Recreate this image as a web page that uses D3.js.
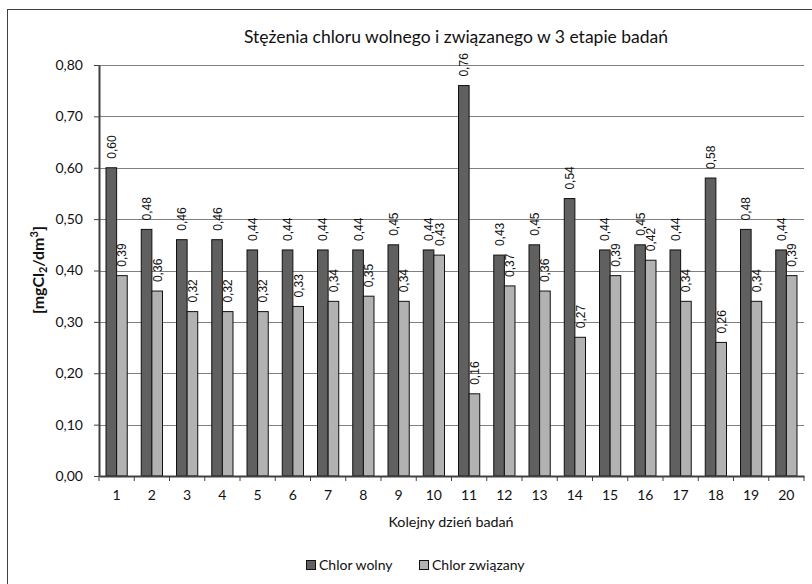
<!DOCTYPE html>
<html><head><meta charset="utf-8">
<script src="https://cdn.jsdelivr.net/npm/d3@7"></script>
<style>body{margin:0;background:#fff}svg{display:block}</style>
</head><body>
<script>
const days = ["1","2","3","4","5","6","7","8","9","10","11","12","13","14","15","16","17","18","19","20"];
const chlorWolny = [0.60,0.48,0.46,0.46,0.44,0.44,0.44,0.44,0.45,0.44,0.76,0.43,0.45,0.54,0.44,0.45,0.44,0.58,0.48,0.44];
const chlorZwiazany = [0.39,0.36,0.32,0.32,0.32,0.33,0.34,0.35,0.34,0.43,0.16,0.37,0.36,0.27,0.39,0.42,0.34,0.26,0.34,0.39];
const seriesNames = ["Chlor wolny","Chlor związany"];
const seriesColors = ["#606060","#b2b2b2"];
const yTicks = [0,0.1,0.2,0.3,0.4,0.5,0.6,0.7,0.8];
const title = "Stężenia chloru wolnego i związanego w 3 etapie badań";
const xTitle = "Kolejny dzień badań";

const W=812,H=584;
const svg=d3.select("body").append("svg").attr("width",W).attr("height",H);
const font="Lato, 'Open Sans', sans-serif";
svg.append("rect").attr("x",7.5).attr("y",9.5).attr("width",820).attr("height",600)
  .attr("fill","#fff").attr("stroke","#404040").attr("stroke-width",1);

const L=99,R=804,T=65,B=476;
const x=d3.scaleBand().domain(days).range([L,R]).paddingInner(0).paddingOuter(0);
const y=d3.scaleLinear().domain([0,0.8]).range([B,T]);
const inner=d3.scaleBand().domain([0,1]).range([0,x.bandwidth()]).paddingInner(0).paddingOuter(0.66);

// gridlines
svg.append("g").selectAll("line").data(yTicks.slice(1)).join("line")
  .attr("x1",L).attr("x2",R).attr("y1",d=>Math.round(y(d))+0.5).attr("y2",d=>Math.round(y(d))+0.5)
  .attr("stroke","#808080").attr("stroke-width",1);

// bars
const series=[chlorWolny,chlorZwiazany];
series.forEach((vals,si)=>{
  const g=svg.append("g");
  g.selectAll("rect").data(vals).join("rect")
    .attr("x",(d,i)=>x(days[i])+inner(si))
    .attr("y",d=>y(d))
    .attr("width",inner.bandwidth())
    .attr("height",d=>B-y(d))
    .attr("fill",seriesColors[si]).attr("stroke","#111").attr("stroke-width",1);
  g.selectAll("text").data(vals).join("text")
    .attr("transform",(d,i)=>{const cx=x(days[i])+inner(si)+inner.bandwidth()/2+4.5;const cy=y(d)-9;return `translate(${cx},${cy}) rotate(-90)`;})
    .attr("font-family","'Liberation Sans', Arial, sans-serif").attr("font-size",12).attr("fill","#111")
    .text(d=>d3.format(".2f")(d).replace(".",","));
});

// y axis
const yAxis=d3.axisLeft(y).tickValues(yTicks).tickSize(5).tickSizeOuter(0).tickPadding(11)
  .tickFormat(d=>d3.format(".2f")(d).replace(".",","));
const ya=svg.append("g").attr("transform",`translate(${L},0)`).call(yAxis);
ya.select(".domain").attr("stroke","#404040").attr("stroke-width",2);
ya.selectAll(".tick line").attr("stroke","#404040");
ya.selectAll("text").attr("font-family",font).attr("font-size",14).attr("fill","#111");

// x axis
const xAxis=d3.axisBottom(x).tickSize(0).tickPadding(14);
const xa=svg.append("g").attr("transform",`translate(0,${B})`).call(xAxis);
xa.select(".domain").attr("stroke","#404040").attr("stroke-width",2);
xa.selectAll("text").attr("font-family",font).attr("font-size",14).attr("fill","#111");
xa.append("g").selectAll("line").data(days.concat(["end"])).join("line")
  .attr("x1",(d,i)=>L+i*x.bandwidth()).attr("x2",(d,i)=>L+i*x.bandwidth())
  .attr("y1",0).attr("y2",5).attr("stroke","#404040");

// titles
svg.append("text").attr("x",456).attr("y",43).attr("text-anchor","middle")
  .attr("font-family",font).attr("font-size",17.5).attr("fill","#111").text(title);
svg.append("text").attr("x",451).attr("y",527).attr("text-anchor","middle")
  .attr("font-family",font).attr("font-size",14.3).attr("fill","#111").text(xTitle);
const yt=svg.append("text").attr("transform",`translate(44,270) rotate(-90)`).attr("text-anchor","middle")
  .attr("font-family",font).attr("font-size",16).attr("font-weight","bold").attr("fill","#111");
yt.append("tspan").text("[mgCl");
yt.append("tspan").attr("font-size",11).attr("dy",3).text("2");
yt.append("tspan").attr("dy",-3).text("/dm");
yt.append("tspan").attr("font-size",11).attr("dy",-6).text("3");
yt.append("tspan").attr("dy",6).text("]");

// legend
const legX=[306,419];
const lg=svg.append("g");
seriesNames.forEach((n,i)=>{
  lg.append("rect").attr("x",legX[i]+0.5).attr("y",560.5).attr("width",9).attr("height",9)
    .attr("fill",seriesColors[i]).attr("stroke","#111");
  lg.append("text").attr("x",legX[i]+13).attr("y",570).attr("font-family",font).attr("font-size",14)
    .attr("fill","#111").text(n);
});
</script>
</body></html>
